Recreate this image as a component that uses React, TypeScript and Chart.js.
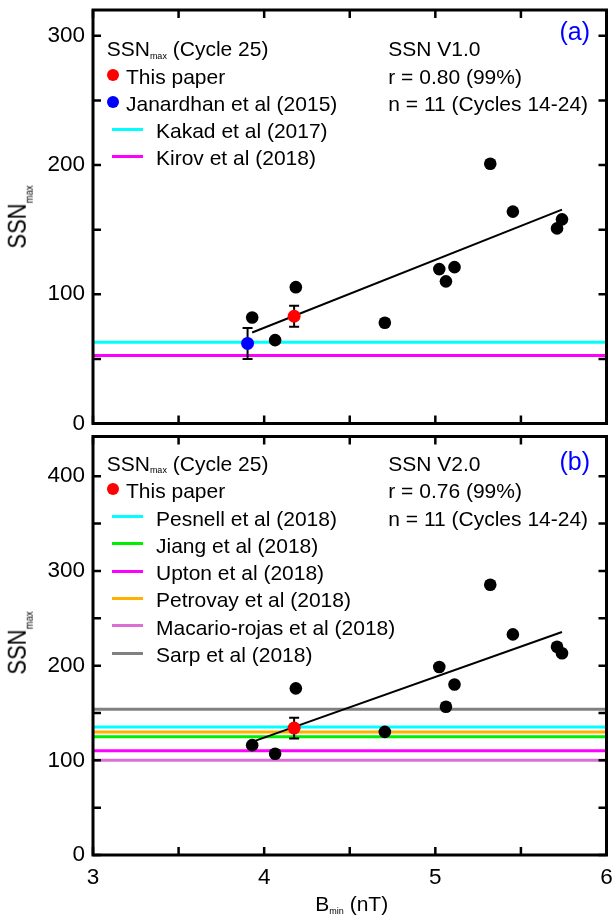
import React, { useEffect, useRef } from "react";
import { Chart, registerables } from "chart.js";

Chart.register(...registerables);

// ---------------- data ----------------
const bminCycles = [3.93, 4.064, 4.185, 4.705, 5.023, 5.062, 5.112, 5.321, 5.453, 5.711, 5.74];
const ssnV1Cycles = [82, 64.5, 105.5, 78, 119.5, 110, 121, 201, 164, 151, 158];
const ssnV2Cycles = [116, 107, 176, 130, 198.5, 156.5, 180, 285.5, 233, 220, 213];

const thisPaperBmin = [4.175];
const thisPaperV1 = [83];
const thisPaperV1Err = [8.2];
const thisPaperV2 = [134];
const thisPaperV2Err = [11];

const janardhanBmin = [3.903];
const janardhanV1 = [62];
const janardhanV1Err = [12];

const fitX = [3.93, 5.74];
const fitV1 = [70.4, 165.5];
const fitV2 = [119.5, 235.5];

const refLabelsV1 = ["Kakad et al (2017)", "Kirov et al (2018)"];
const refValuesV1 = [62.9, 52.7];
const refColorsV1 = ["#00FFFF", "#FF00FF"];

const refLabelsV2 = [
  "Pesnell et al (2018)",
  "Jiang et al (2018)",
  "Upton et al (2018)",
  "Petrovay et al (2018)",
  "Macario-rojas et al (2018)",
  "Sarp et al (2018)",
];
const refValuesV2 = [135.3, 125, 110, 130, 100, 154];
const refColorsV2 = ["#00FFFF", "#00EE00", "#FF00FF", "#FFB000", "#DA70D6", "#808080"];

const xRange = [3, 6];
const xStep = 0.5;
const yRangeV1 = [0, 320];
const yRangeV2 = [0, 442];
const yStep = 50;
const yLabelStep = 100;

const statsV1 = ["SSN V1.0", "r = 0.80 (99%)", "n = 11 (Cycles 14-24)"];
const statsV2 = ["SSN V2.0", "r = 0.76 (99%)", "n = 11 (Cycles 14-24)"];

// ---------------- helpers ----------------
const FONT = '"Liberation Sans", Arial, Helvetica, sans-serif';
Chart.defaults.font.family = FONT;

const framePlugin = {
  id: "frameTicks",
  afterDraw(chart: any) {
    const { ctx, chartArea: a, scales } = chart;
    const xs = scales.x;
    const ys = scales.y;
    const L = 8;
    ctx.save();
    ctx.strokeStyle = "#000";
    ctx.lineWidth = 2.5;
    ctx.beginPath();
    for (const t of xs.ticks) {
      const px = xs.getPixelForValue(t.value);
      ctx.moveTo(px, a.bottom);
      ctx.lineTo(px, a.bottom - L);
      ctx.moveTo(px, a.top);
      ctx.lineTo(px, a.top + L);
    }
    for (const t of ys.ticks) {
      const py = ys.getPixelForValue(t.value);
      ctx.moveTo(a.left, py);
      ctx.lineTo(a.left + L, py);
      ctx.moveTo(a.right, py);
      ctx.lineTo(a.right - L, py);
    }
    ctx.stroke();
    ctx.lineWidth = 3;
    ctx.strokeRect(a.left, a.top, a.right - a.left, a.bottom - a.top);
    ctx.restore();
  },
};

const errorBarPlugin = {
  id: "errorBars",
  beforeDatasetDraw(chart: any, args: any) {
    const ds = chart.data.datasets[args.index];
    if (!ds.errors) return;
    const { ctx, scales } = chart;
    const xs = scales.x;
    const ys = scales.y;
    ctx.save();
    ctx.strokeStyle = "#000";
    ctx.lineWidth = 2;
    ctx.beginPath();
    ds.data.forEach((p: any, i: number) => {
      const e = ds.errors[i];
      const px = xs.getPixelForValue(p.x);
      const t = ys.getPixelForValue(p.y + e);
      const b = ys.getPixelForValue(p.y - e);
      ctx.moveTo(px, t);
      ctx.lineTo(px, b);
      ctx.moveTo(px - 5, t);
      ctx.lineTo(px + 5, t);
      ctx.moveTo(px - 5, b);
      ctx.lineTo(px + 5, b);
    });
    ctx.stroke();
    ctx.restore();
  },
};

function buildConfig(opts: {
  ssn: number[];
  fit: number[];
  refValues: number[];
  refColors: string[];
  extra: any[];
  yRange: number[];
  showXLabels: boolean;
  padTop: number;
  padBottom: number;
  xAxisH: number;
}) {
  const datasets: any[] = [];
  opts.refValues.forEach((v, i) => {
    datasets.push({
      data: [
        { x: xRange[0], y: v },
        { x: xRange[1], y: v },
      ],
      showLine: true,
      borderColor: opts.refColors[i],
      borderWidth: 3,
      pointRadius: 0,
      order: 10,
    });
  });
  datasets.push({
    data: fitX.map((x, i) => ({ x, y: opts.fit[i] })),
    showLine: true,
    borderColor: "#000",
    borderWidth: 2,
    pointRadius: 0,
    order: 3,
  });
  datasets.push({
    data: bminCycles.map((x, i) => ({ x, y: opts.ssn[i] })),
    pointRadius: 6.3,
    pointBackgroundColor: "#000",
    pointBorderWidth: 0,
    order: 2,
  });
  opts.extra.forEach((d) => datasets.push(d));

  return {
    type: "scatter",
    data: { datasets },
    plugins: [framePlugin, errorBarPlugin],
    options: {
      responsive: false,
      animation: false,
      events: [],
      layout: { padding: { left: 0, right: 6, top: opts.padTop, bottom: opts.padBottom } },
      plugins: { legend: { display: false }, tooltip: { enabled: false } },
      scales: {
        x: {
          type: "linear",
          min: xRange[0],
          max: xRange[1],
          grid: { display: false, drawTicks: false },
          border: { display: false },
          ticks: {
            display: opts.showXLabels,
            stepSize: xStep,
            includeBounds: false,
            autoSkip: false,
            maxRotation: 0,
            padding: 9,
            color: "#000",
            font: { size: 22.5, family: FONT },
            callback: (v: number) => (Number.isInteger(v) ? String(v) : ""),
          },
          afterFit: (s: any) => {
            s.height = opts.xAxisH;
            s.paddingLeft = 0;
            s.paddingRight = 0;
          },
        },
        y: {
          type: "linear",
          min: opts.yRange[0],
          max: opts.yRange[1],
          grid: { display: false, drawTicks: false },
          border: { display: false },
          ticks: {
            stepSize: yStep,
            includeBounds: false,
            autoSkip: false,
            padding: 8,
            color: "#000",
            font: { size: 22.5, family: FONT },
            callback: (v: number) => (v % yLabelStep === 0 ? String(v) : ""),
          },
          afterFit: (s: any) => {
            s.width = 93;
            s.paddingTop = 0;
            s.paddingBottom = 0;
          },
        },
      },
    },
  } as any;
}

const ASC = 0.8465;

function Txt(props: {
  x: number;
  base: number;
  size: number;
  color?: string;
  right?: boolean;
  children: any;
}) {
  const { x, base, size, color, right, children } = props;
  const style: any = {
    position: "absolute",
    top: base - ASC * size,
    fontSize: size,
    lineHeight: size + "px",
    whiteSpace: "nowrap",
    color: color || "#000",
    fontFamily: FONT,
  };
  if (right) style.right = 613 - x;
  else style.left = x;
  return <div style={style}>{children}</div>;
}

function Sub(props: { children: any; size?: number; drop?: number }) {
  return (
    <span style={{ fontSize: props.size || 9, position: "relative", top: props.drop ?? 2.3 }}>
      {props.children}
    </span>
  );
}

function Dot(props: { cx: number; cy: number; color: string }) {
  return (
    <div
      style={{
        position: "absolute",
        left: props.cx - 6,
        top: props.cy - 6,
        width: 12,
        height: 12,
        borderRadius: 6,
        background: props.color,
      }}
    />
  );
}

function LineMark(props: { y: number; color: string }) {
  return (
    <div
      style={{
        position: "absolute",
        left: 112,
        top: props.y - 1.5,
        width: 31,
        height: 3,
        background: props.color,
      }}
    />
  );
}

const STEP = 27.3;

export default function App() {
  const topRef = useRef<HTMLCanvasElement>(null);
  const botRef = useRef<HTMLCanvasElement>(null);

  useEffect(() => {
    const c1 = new Chart(
      topRef.current as HTMLCanvasElement,
      buildConfig({
        ssn: ssnV1Cycles,
        fit: fitV1,
        refValues: refValuesV1,
        refColors: refColorsV1,
        yRange: yRangeV1,
        showXLabels: false,
        padTop: 10,
        padBottom: 6.5,
        xAxisH: 0,
        extra: [
          {
            data: janardhanBmin.map((x, i) => ({ x, y: janardhanV1[i] })),
            errors: janardhanV1Err,
            pointRadius: 6.5,
            pointBackgroundColor: "#0000FF",
            pointBorderWidth: 0,
            order: 1,
          },
          {
            data: thisPaperBmin.map((x, i) => ({ x, y: thisPaperV1[i] })),
            errors: thisPaperV1Err,
            pointRadius: 6.5,
            pointBackgroundColor: "#FF0000",
            pointBorderWidth: 0,
            order: 1,
          },
        ],
      })
    );
    const c2 = new Chart(
      botRef.current as HTMLCanvasElement,
      buildConfig({
        ssn: ssnV2Cycles,
        fit: fitV2,
        refValues: refValuesV2,
        refColors: refColorsV2,
        yRange: yRangeV2,
        showXLabels: true,
        padTop: 1.7,
        padBottom: 0,
        xAxisH: 62,
        extra: [
          {
            data: thisPaperBmin.map((x, i) => ({ x, y: thisPaperV2[i] })),
            errors: thisPaperV2Err,
            pointRadius: 6.5,
            pointBackgroundColor: "#FF0000",
            pointBorderWidth: 0,
            order: 1,
          },
        ],
      })
    );
    return () => {
      c1.destroy();
      c2.destroy();
    };
  }, []);

  const topBase = 56;
  const botBase = 470.7;

  return (
    <div
      style={{
        position: "absolute",
        left: 0,
        top: 0,
        width: 613,
        height: 917,
        background: "#fff",
        fontFamily: FONT,
        overflow: "hidden",
      }}
    >
      <canvas ref={topRef} width={613} height={430} style={{ position: "absolute", left: 0, top: 0 }} />
      <canvas ref={botRef} width={613} height={487} style={{ position: "absolute", left: 0, top: 430 }} />

      {/* ---- panel (a) legend ---- */}
      <Txt x={106.7} base={topBase} size={21}>
        SSN<Sub>max</Sub> (Cycle 25)
      </Txt>
      <Dot cx={113.3} cy={topBase + STEP - 8.7} color="#FF0000" />
      <Txt x={126} base={topBase + STEP} size={21}>
        This paper
      </Txt>
      <Dot cx={113.3} cy={topBase + 2 * STEP - 8.7} color="#0000FF" />
      <Txt x={126} base={topBase + 2 * STEP} size={21}>
        Janardhan et al (2015)
      </Txt>
      {refLabelsV1.map((lab, i) => (
        <React.Fragment key={lab}>
          <LineMark y={topBase + (3 + i) * STEP - 8.7} color={refColorsV1[i]} />
          <Txt x={156} base={topBase + (3 + i) * STEP} size={21}>
            {lab}
          </Txt>
        </React.Fragment>
      ))}
      {statsV1.map((s, i) => (
        <Txt key={s} x={388.3} base={topBase + i * STEP} size={21}>
          {s}
        </Txt>
      ))}
      <Txt x={590} base={40.5} size={25} color="#0000FF" right>
        (a)
      </Txt>

      {/* ---- panel (b) legend ---- */}
      <Txt x={106.7} base={botBase} size={21}>
        SSN<Sub>max</Sub> (Cycle 25)
      </Txt>
      <Dot cx={113.3} cy={botBase + STEP - 8.7} color="#FF0000" />
      <Txt x={126} base={botBase + STEP} size={21}>
        This paper
      </Txt>
      {refLabelsV2.map((lab, i) => (
        <React.Fragment key={lab}>
          <LineMark y={botBase + (2 + i) * STEP - 8.7} color={refColorsV2[i]} />
          <Txt x={156} base={botBase + (2 + i) * STEP} size={21}>
            {lab}
          </Txt>
        </React.Fragment>
      ))}
      {statsV2.map((s, i) => (
        <Txt key={s} x={388.3} base={botBase + i * STEP} size={21}>
          {s}
        </Txt>
      ))}
      <Txt x={590} base={470} size={25} color="#0000FF" right>
        (b)
      </Txt>

      {/* ---- axis titles ---- */}
      {[216.5, 643.3].map((cy) => (
        <div
          key={cy}
          style={{
            position: "absolute",
            left: 20,
            top: cy,
            transform: "translate(-50%, -50%) rotate(-90deg) scaleY(1.15)",
            fontSize: 22,
            lineHeight: "22px",
            whiteSpace: "nowrap",
            fontFamily: FONT,
            color: "#000",
          }}
        >
          SSN<Sub size={9.5} drop={6}>max</Sub>
        </div>
      ))}
      <div
        style={{
          position: "absolute",
          left: 351.75,
          top: 911 - ASC * 21,
          transform: "translateX(-50%)",
          fontSize: 21,
          lineHeight: "21px",
          whiteSpace: "nowrap",
          fontFamily: FONT,
          color: "#000",
        }}
      >
        B<Sub size={9}>min</Sub> (nT)
      </div>
    </div>
  );
}
